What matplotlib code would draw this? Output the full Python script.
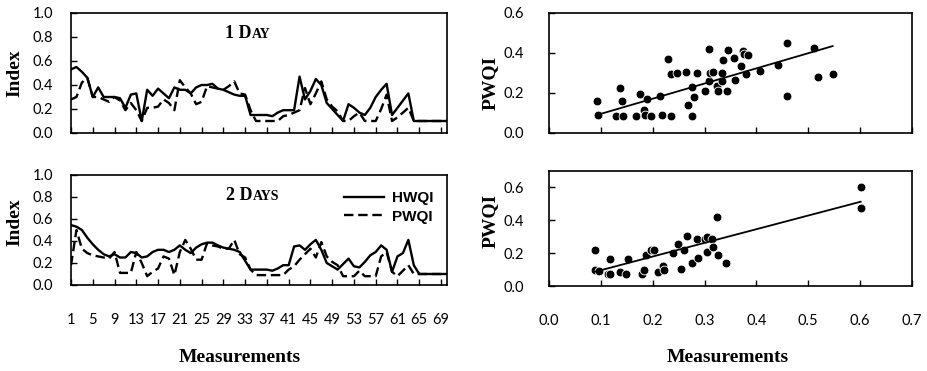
import numpy as np
import matplotlib
matplotlib.use("Agg")
import matplotlib.pyplot as plt
from matplotlib.offsetbox import TextArea, HPacker, AnnotationBbox

# measurement index for the time series panels
measurements = list(range(1, 71))
meas_ticks = list(range(1, 70, 4))

# 1 day ahead
hwqi_1day = [0.53, 0.55, 0.51, 0.46, 0.30, 0.38, 0.30, 0.30, 0.30, 0.29,
             0.21, 0.32, 0.33, 0.10, 0.36, 0.31, 0.37, 0.33, 0.29, 0.38,
             0.36, 0.36, 0.33, 0.38, 0.40, 0.40, 0.41, 0.37, 0.36, 0.34,
             0.32, 0.31, 0.31, 0.15, 0.15, 0.15, 0.15, 0.14, 0.17, 0.19,
             0.19, 0.19, 0.47, 0.28, 0.35, 0.45, 0.40, 0.25, 0.20, 0.15,
             0.10, 0.24, 0.21, 0.17, 0.15, 0.21, 0.30, 0.36, 0.41, 0.15,
             0.21, 0.27, 0.33, 0.10, 0.10, 0.10, 0.10, 0.10, 0.10, 0.10]
pwqi_1day = [0.28, 0.30, 0.42, 0.46, 0.30, 0.30, 0.28, 0.26, 0.30, 0.27,
             0.19, 0.25, 0.19, 0.10, 0.21, 0.21, 0.22, 0.28, 0.25, 0.19,
             0.44, 0.38, 0.33, 0.24, 0.26, 0.39, 0.38, 0.37, 0.36, 0.39,
             0.43, 0.33, 0.32, 0.19, 0.10, 0.10, 0.10, 0.10, 0.10, 0.14,
             0.15, 0.17, 0.19, 0.375, 0.24, 0.33, 0.43, 0.28, 0.22, 0.18,
             0.10, 0.10, 0.14, 0.17, 0.10, 0.10, 0.10, 0.20, 0.32, 0.10,
             0.13, 0.17, 0.21, 0.10, 0.10, 0.10, 0.10, 0.10, 0.10, 0.10]

# 2 days ahead
hwqi_2day = [0.545, 0.53, 0.50, 0.43, 0.37, 0.32, 0.28, 0.26, 0.28, 0.25,
             0.25, 0.30, 0.29, 0.25, 0.26, 0.30, 0.32, 0.32, 0.30, 0.32,
             0.36, 0.32, 0.29, 0.34, 0.37, 0.385, 0.385, 0.36, 0.34, 0.33,
             0.32, 0.30, 0.22, 0.14, 0.14, 0.14, 0.14, 0.13, 0.15, 0.18,
             0.18, 0.35, 0.36, 0.32, 0.37, 0.41, 0.32, 0.20, 0.17, 0.14,
             0.19, 0.24, 0.17, 0.16, 0.21, 0.27, 0.30, 0.36, 0.32, 0.12,
             0.26, 0.29, 0.41, 0.18, 0.10, 0.10, 0.10, 0.10, 0.10, 0.10]
pwqi_2day = [0.18, 0.50, 0.33, 0.29, 0.27, 0.26, 0.25, 0.24, 0.30, 0.11,
             0.11, 0.11, 0.30, 0.20, 0.08, 0.12, 0.15, 0.26, 0.24, 0.09,
             0.30, 0.41, 0.33, 0.23, 0.23, 0.38, 0.36, 0.35, 0.33, 0.33,
             0.41, 0.28, 0.25, 0.14, 0.09, 0.09, 0.09, 0.09, 0.09, 0.09,
             0.14, 0.17, 0.23, 0.28, 0.33, 0.25, 0.39, 0.26, 0.21, 0.18,
             0.08, 0.08, 0.08, 0.13, 0.08, 0.08, 0.08, 0.26, 0.30, 0.12,
             0.08, 0.13, 0.18, 0.10, 0.10, 0.10, 0.10, 0.10, 0.10, 0.10]

# scatter: measured vs predicted, 1 day
sc1_x = [0.095, 0.093, 0.130, 0.137, 0.140, 0.142, 0.168, 0.176, 0.184, 0.186,
         0.189, 0.197, 0.214, 0.217, 0.230, 0.235, 0.236, 0.246, 0.264, 0.269,
         0.275, 0.279, 0.275, 0.285, 0.301, 0.308, 0.309, 0.311, 0.316, 0.324,
         0.326, 0.333, 0.334, 0.335, 0.344, 0.346, 0.357, 0.359, 0.370, 0.374,
         0.376, 0.383, 0.380, 0.406, 0.441, 0.458, 0.458, 0.511, 0.518, 0.547]
sc1_y = [0.092, 0.158, 0.083, 0.225, 0.158, 0.083, 0.087, 0.197, 0.117, 0.092,
         0.170, 0.087, 0.183, 0.092, 0.370, 0.297, 0.083, 0.300, 0.305, 0.142,
         0.230, 0.180, 0.087, 0.300, 0.208, 0.258, 0.420, 0.300, 0.303, 0.233,
         0.208, 0.258, 0.300, 0.367, 0.208, 0.413, 0.375, 0.267, 0.333, 0.412,
         0.397, 0.392, 0.297, 0.312, 0.342, 0.450, 0.183, 0.425, 0.278, 0.297]
trend_1day = (0.758, 0.020)  # slope, intercept

# scatter: measured vs predicted, 2 days
sc2_x = [0.088, 0.088, 0.096, 0.114, 0.118, 0.118, 0.137, 0.148, 0.153, 0.179,
         0.184, 0.187, 0.197, 0.202, 0.210, 0.220, 0.222, 0.240, 0.248, 0.255,
         0.260, 0.266, 0.275, 0.285, 0.288, 0.301, 0.305, 0.305, 0.314, 0.316,
         0.324, 0.326, 0.342, 0.601, 0.601]
sc2_y = [0.221, 0.097, 0.093, 0.076, 0.167, 0.072, 0.087, 0.076, 0.167, 0.076,
         0.100, 0.187, 0.221, 0.221, 0.087, 0.121, 0.100, 0.203, 0.253, 0.103,
         0.217, 0.304, 0.137, 0.288, 0.173, 0.288, 0.298, 0.207, 0.288, 0.237,
         0.423, 0.187, 0.137, 0.600, 0.475]
trend_2day = (0.832, 0.013)

serif = "Liberation Serif"
tickfont = "Lato"
W, H = 928, 371

fig = plt.figure(figsize=(W / 100, H / 100), dpi=100)


def px_axes(x0, y0, x1, y1):
    # pixel box (top-left origin) -> figure axes
    return fig.add_axes([x0 / W, 1 - y1 / H, (x1 - x0) / W, (y1 - y0) / H])


def style(ax, ypad):
    for s in ax.spines.values():
        s.set_linewidth(1.2)
        s.set_color("black")
    ax.tick_params(direction="in", length=4, width=1.0, colors="black")
    ax.tick_params(axis="y", pad=ypad, labelsize=10.5)
    ax.tick_params(axis="x", pad=20, labelsize=10.5)
    for lab in ax.get_xticklabels() + ax.get_yticklabels():
        lab.set_fontfamily(tickfont)


def small_caps_title(ax, big, small, xy):
    box = HPacker(children=[
        TextArea(big, textprops=dict(family=serif, weight="bold", size=13)),
        TextArea(small, textprops=dict(family=serif, weight="bold", size=10)),
    ], align="baseline", pad=0, sep=0)
    ab = AnnotationBbox(box, xy, xycoords="axes fraction", frameon=False,
                        box_alignment=(0.5, 0.5))
    ax.add_artist(ab)


# left: time series
ax1 = px_axes(71, 13, 447, 133)
ax2 = px_axes(71, 175, 447, 285)
for ax, h, p in [(ax1, hwqi_1day, pwqi_1day), (ax2, hwqi_2day, pwqi_2day)]:
    ax.plot(measurements, h, color="black", lw=1.7, label="HWQI")
    ax.plot(measurements, p, color="black", lw=1.7, ls=(0, (4, 2)), label="PWQI")
    ax.set_xlim(1, 70.1)
    ax.set_ylim(0, 1.0)
    ax.set_yticks(np.arange(0, 1.01, 0.2))
    ax.yaxis.set_major_formatter(matplotlib.ticker.FormatStrFormatter("%.1f"))
    ax.set_xticks(meas_ticks)
    style(ax, 13)
ax1.set_xticklabels([])
ax2.set_xticklabels([str(t) for t in meas_ticks], family=tickfont)

small_caps_title(ax1, "1 D", "AY", (0.471, 0.833))
small_caps_title(ax2, "2 D", "AYS", (0.484, 0.81))

leg = ax2.legend(loc="upper right", bbox_to_anchor=(1.0, 0.98), frameon=False,
                 handlelength=2.6, handletextpad=0.5, labelspacing=0.3,
                 prop=dict(family="Liberation Sans", weight="bold", size=11))

# right: scatter
ax3 = px_axes(549, 13, 912, 133)
ax4 = px_axes(549, 171, 912, 286)
for ax, xs, ys, trend, ymax in [(ax3, sc1_x, sc1_y, trend_1day, 0.6),
                                (ax4, sc2_x, sc2_y, trend_2day, 0.7)]:
    ax.scatter(xs, ys, s=40, c="black", edgecolors="white", linewidths=0.6, zorder=3)
    k, b = trend
    xx = np.array([min(xs), max(xs)])
    ax.plot(xx, k * xx + b, color="black", lw=1.3, zorder=4)
    ax.set_xlim(0, 0.7)
    ax.set_ylim(0, ymax)
    ax.set_xticks(np.arange(0, 0.71, 0.1))
    ax.set_yticks(np.arange(0, 0.61, 0.2))
    ax.xaxis.set_major_formatter(matplotlib.ticker.FormatStrFormatter("%.1f"))
    ax.yaxis.set_major_formatter(matplotlib.ticker.FormatStrFormatter("%.1f"))
    style(ax, 18)
ax3.set_xticklabels([])

# axis titles
lab = dict(family=serif, weight="bold", size=14, ha="center", va="center")
fig.text(15 / W, 1 - 73 / H, "Index", rotation=90, **lab)
fig.text(15 / W, 1 - 222 / H, "Index", rotation=90, **lab)
fig.text(490 / W, 1 - 83 / H, "PWQI", rotation=90, **lab)
fig.text(490 / W, 1 - 221 / H, "PWQI", rotation=90, **lab)
fig.text(240 / W, 1 - 358 / H, "Measurements", **lab)
fig.text(728 / W, 1 - 358 / H, "Measurements", **lab)

fig.savefig("out.png", dpi=100)
